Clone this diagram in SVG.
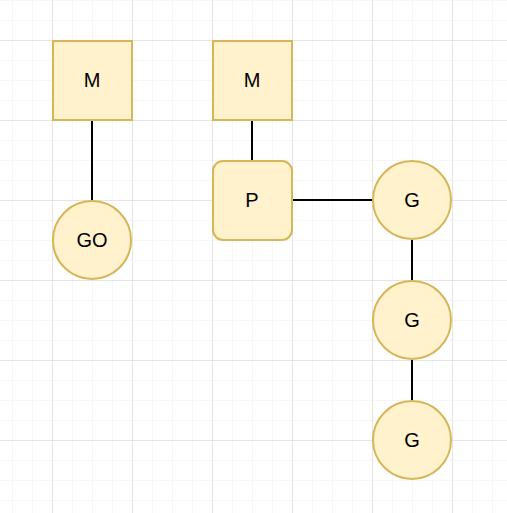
<svg xmlns="http://www.w3.org/2000/svg" width="507" height="513" viewBox="0 0 507 513">
<defs>
<pattern id="minor" x="12" y="0" width="20" height="20" patternUnits="userSpaceOnUse">
<path d="M0 0H20M0 0V20" fill="none" stroke="#f0f0f0" stroke-width="1"/>
</pattern>
<pattern id="major" x="52" y="40" width="80" height="80" patternUnits="userSpaceOnUse">
<path d="M0 0H80M0 0V80" fill="none" stroke="#d4d4d4" stroke-width="1"/>
</pattern>
</defs>
<style>
.shape{fill:#fff2cc;stroke:#d6b656;stroke-width:2}
.lbl{font-family:"Liberation Sans",Arial,sans-serif;font-size:20px;fill:#000;text-anchor:middle;dominant-baseline:central}
.edge{stroke:#000;stroke-width:2;fill:none}
</style>
<rect width="507" height="513" fill="#fff"/>
<rect width="507" height="513" fill="url(#minor)"/>
<rect width="507" height="513" fill="url(#major)"/>
<g id="connectors">
<path class="edge" d="M92 120V200"/>
<path class="edge" d="M252 120V160"/>
<path class="edge" d="M292 200H372"/>
<path class="edge" d="M412 240V280"/>
<path class="edge" d="M412 360V400"/>
</g>
<g id="m1"><rect class="shape" x="53" y="41" width="79" height="79"/><text class="lbl" x="92" y="80">M</text></g>
<g id="go"><circle class="shape" cx="92" cy="240" r="39"/><text class="lbl" x="92" y="240">GO</text></g>
<g id="m2"><rect class="shape" x="213" y="41" width="79" height="79"/><text class="lbl" x="252" y="80">M</text></g>
<g id="p"><rect class="shape" x="213" y="161" width="79" height="79" rx="10"/><text class="lbl" x="252" y="200">P</text></g>
<g id="g1"><circle class="shape" cx="412" cy="200" r="39"/><text class="lbl" x="412" y="200">G</text></g>
<g id="g2"><circle class="shape" cx="412" cy="320" r="39"/><text class="lbl" x="412" y="320">G</text></g>
<g id="g3"><circle class="shape" cx="412" cy="440" r="39"/><text class="lbl" x="412" y="440">G</text></g>
</svg>
